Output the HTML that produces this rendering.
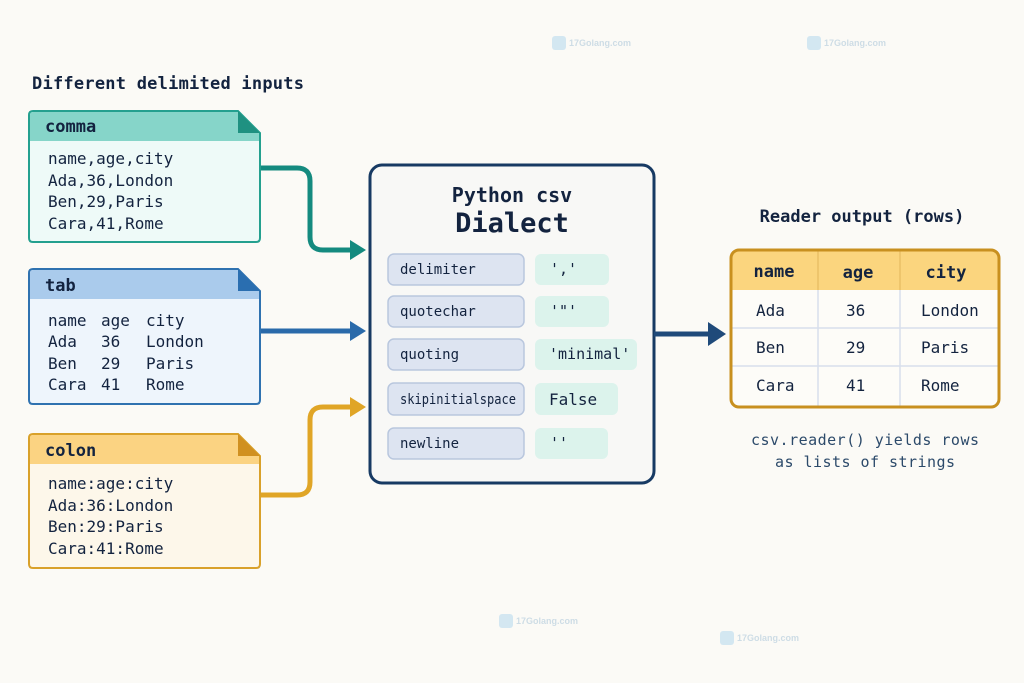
<!DOCTYPE html>
<html><head><meta charset="utf-8"><style>
html,body{margin:0;padding:0;background:#fbfaf6;}
svg{display:block;}
text{font-family:"DejaVu Sans Mono","Liberation Mono",monospace;fill:#13233f;}
</style></head><body>
<svg width="1024" height="683" viewBox="0 0 1024 683" xmlns="http://www.w3.org/2000/svg">
<rect width="1024" height="683" fill="#fbfaf6"/>
<text x="32" y="89" font-size="17" font-weight="bold" textLength="272">Different delimited inputs</text>

<!-- comma -->
<path d="M33 111 H238 L260 133 V238 Q260 242 256 242 H33 Q29 242 29 238 V115 Q29 111 33 111 Z" fill="#eefaf8" stroke="#24a08f" stroke-width="2"/>
<path d="M33 112 H238 L259 133 V141 H30 V115 Q30 112 33 112 Z" fill="#86d5c9"/>
<path d="M238 111 V133 H260 Z" fill="#1f9181"/>
<text x="45" y="132" font-size="17" font-weight="bold">comma</text>
<g font-size="16"><text x="48" y="164">name,age,city</text><text x="48" y="186">Ada,36,London</text><text x="48" y="207">Ben,29,Paris</text><text x="48" y="229">Cara,41,Rome</text></g>

<!-- tab -->
<path d="M33 269 H238 L260 291 V400 Q260 404 256 404 H33 Q29 404 29 400 V273 Q29 269 33 269 Z" fill="#eef5fc" stroke="#2f72b0" stroke-width="2"/>
<path d="M33 270 H238 L259 291 V299 H30 V273 Q30 270 33 270 Z" fill="#aacbec"/>
<path d="M238 269 V291 H260 Z" fill="#2a6eb0"/>
<text x="45" y="291" font-size="17" font-weight="bold">tab</text>
<g font-size="16"><text x="48" y="326">name</text><text x="101" y="326">age</text><text x="146" y="326">city</text>
<text x="48" y="347">Ada</text><text x="101" y="347">36</text><text x="146" y="347">London</text>
<text x="48" y="369">Ben</text><text x="101" y="369">29</text><text x="146" y="369">Paris</text>
<text x="48" y="390">Cara</text><text x="101" y="390">41</text><text x="146" y="390">Rome</text></g>

<!-- colon -->
<path d="M33 434 H238 L260 456 V564 Q260 568 256 568 H33 Q29 568 29 564 V438 Q29 434 33 434 Z" fill="#fdf7ea" stroke="#d9a12a" stroke-width="2"/>
<path d="M33 435 H238 L259 456 V464 H30 V438 Q30 435 33 435 Z" fill="#fbd382"/>
<path d="M238 434 V456 H260 Z" fill="#d09020"/>
<text x="45" y="456" font-size="17" font-weight="bold">colon</text>
<g font-size="16"><text x="48" y="489">name:age:city</text><text x="48" y="511">Ada:36:London</text><text x="48" y="532">Ben:29:Paris</text><text x="48" y="554">Cara:41:Rome</text></g>

<!-- connectors -->
<path d="M261 168 H297 Q310 168 310 181 V237 Q310 250 323 250 H352" fill="none" stroke="#148a7f" stroke-width="5"/>
<path d="M350 240 L366 250 L350 260 Z" fill="#148a7f"/>
<path d="M261 331 H352" fill="none" stroke="#2a6aaa" stroke-width="5"/>
<path d="M350 321 L366 331 L350 341 Z" fill="#2a6aaa"/>
<path d="M261 495 H297 Q310 495 310 482 V420 Q310 407 323 407 H352" fill="none" stroke="#e0a526" stroke-width="5"/>
<path d="M350 397 L366 407 L350 417 Z" fill="#e0a526"/>

<!-- dialect -->
<rect x="370" y="165" width="284" height="318" rx="12" fill="#f8f8f6" stroke="#173a63" stroke-width="3"/>
<text x="512" y="202" font-size="20" font-weight="bold" text-anchor="middle">Python csv</text>
<text x="512" y="232" font-size="27" font-weight="bold" text-anchor="middle">Dialect</text>
<g fill="#dde4f1" stroke="#b9c7de" stroke-width="1.5">
<rect x="388" y="254" width="136" height="31" rx="6"/><rect x="388" y="296" width="136" height="31" rx="6"/>
<rect x="388" y="339" width="136" height="31" rx="6"/><rect x="388" y="383" width="136" height="32" rx="6"/>
<rect x="388" y="428" width="136" height="31" rx="6"/></g>
<g fill="#dcf3ec">
<rect x="535" y="254" width="74" height="31" rx="6"/><rect x="535" y="296" width="74" height="31" rx="6"/>
<rect x="535" y="339" width="102" height="31" rx="6"/><rect x="535" y="383" width="83" height="32" rx="6"/>
<rect x="535" y="428" width="73" height="31" rx="6"/></g>
<g font-size="14"><text x="400" y="274">delimiter</text><text x="400" y="316">quotechar</text><text x="400" y="359">quoting</text><text x="400" y="404" textLength="116" lengthAdjust="spacingAndGlyphs">skipinitialspace</text><text x="400" y="448">newline</text></g>
<g font-size="15"><text x="550" y="274">','</text><text x="550" y="316">'"'</text><text x="549" y="359">'minimal'</text><text x="549" y="405" font-size="16">False</text><text x="550" y="448">''</text></g>

<path d="M654 334 H710" stroke="#1f4a7a" stroke-width="5"/>
<path d="M708 322 L726 334 L708 346 Z" fill="#1f4a7a"/>

<!-- output -->
<text x="862" y="222" font-size="17" font-weight="bold" text-anchor="middle">Reader output (rows)</text>
<rect x="731" y="250" width="268" height="157" rx="8" fill="#fdfcf8"/>
<path d="M731 290 V258 Q731 250 739 250 H991 Q999 250 999 258 V290 Z" fill="#fbd57e"/>
<g stroke="#d8dfec" stroke-width="1.5"><path d="M731 328 H999 M731 366 H999 M818 290 V407 M900 290 V407"/></g>
<path d="M818 250 V290 M900 250 V290" stroke="#eac066" stroke-width="1.5"/>
<rect x="731" y="250" width="268" height="157" rx="8" fill="none" stroke="#c8901f" stroke-width="3"/>
<g font-size="17" font-weight="bold"><text x="774" y="277" text-anchor="middle">name</text><text x="858" y="278" text-anchor="middle">age</text><text x="946" y="278" text-anchor="middle">city</text></g>
<g font-size="16"><text x="756" y="316">Ada</text><text x="846" y="316">36</text><text x="921" y="316">London</text>
<text x="756" y="353">Ben</text><text x="846" y="353">29</text><text x="921" y="353">Paris</text>
<text x="756" y="391">Cara</text><text x="846" y="391">41</text><text x="921" y="391">Rome</text></g>
<text x="751" y="445" font-size="15" style="fill:#2c4a6a" textLength="228">csv.reader() yields rows</text>
<text x="775" y="467" font-size="15" style="fill:#2c4a6a" textLength="180">as lists of strings</text>

<!-- watermarks -->
<g font-size="9" font-weight="bold" opacity="0.35">
<rect x="552" y="36" width="14" height="14" rx="3" fill="#8cc4e8"/><text x="569" y="46" style="fill:#7aa6c8;font-family:'Liberation Sans'">17Golang.com</text>
<rect x="807" y="36" width="14" height="14" rx="3" fill="#8cc4e8"/><text x="824" y="46" style="fill:#7aa6c8;font-family:'Liberation Sans'">17Golang.com</text>
<rect x="499" y="614" width="14" height="14" rx="3" fill="#8cc4e8"/><text x="516" y="624" style="fill:#7aa6c8;font-family:'Liberation Sans'">17Golang.com</text>
<rect x="720" y="631" width="14" height="14" rx="3" fill="#8cc4e8"/><text x="737" y="641" style="fill:#7aa6c8;font-family:'Liberation Sans'">17Golang.com</text>
</g>
</svg>
</body></html>
